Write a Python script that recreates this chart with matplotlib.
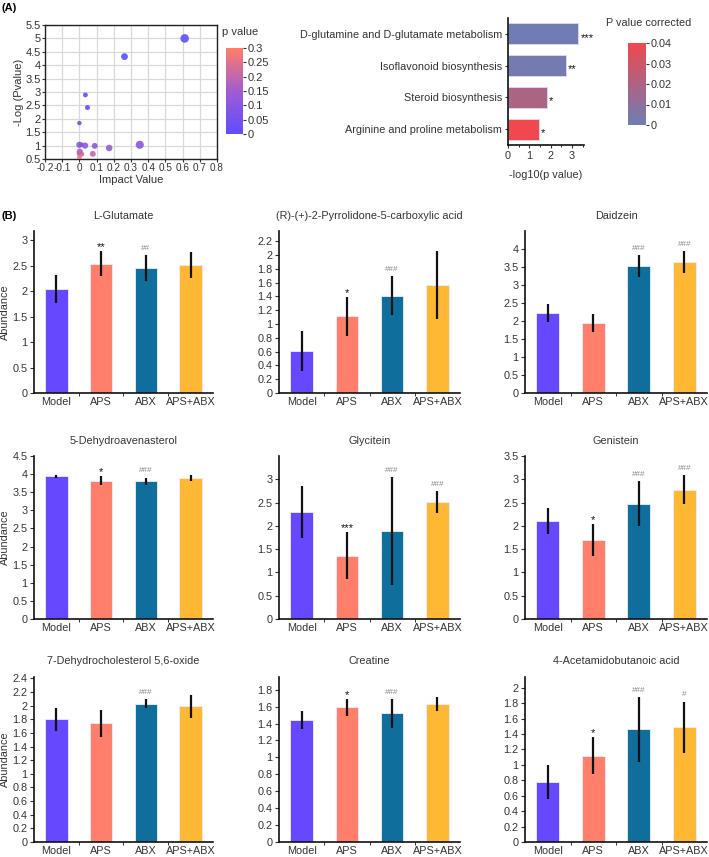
import matplotlib
matplotlib.use('Agg')
import matplotlib.pyplot as plt
import numpy as np
from matplotlib.colors import LinearSegmentedColormap, Normalize
from matplotlib.cm import ScalarMappable
from matplotlib.ticker import FixedLocator

plt.rcParams['font.family'] = ['Liberation Sans', 'DejaVu Sans']
TXT = '#333333'

# ---------------- data ----------------
# (A) left: pathway impact scatter
impact = [0.612, 0.262, 0.035, 0.047, 0.000, 0.000, 0.012, 0.033, 0.089, 0.173, 0.351, 0.002, 0.014, 0.078, 0.000, -0.003]
neglogp = [5.00, 4.32, 2.89, 2.42, 1.84, 1.03, 1.03, 1.00, 0.99, 0.91, 1.03, 0.77, 0.68, 0.69, 0.56, 0.70]
pt_size = [38, 24, 12, 13, 10, 20, 12, 20, 18, 22, 34, 20, 12, 18, 12, 10]

# (A) right: enriched pathways
pathways = ['D-glutamine and D-glutamate metabolism', 'Isoflavonoid biosynthesis',
            'Steroid biosynthesis', 'Arginine and proline metabolism']
path_neglog10p = [3.29, 2.72, 1.83, 1.45]
path_pcorr = [0.001, 0.002, 0.019, 0.040]
path_sig = ['***', '**', '*', '*']

# (B) metabolite abundances
groups = ['Model', 'APS', 'ABX', 'APS+ABX']
metabolites = ['L-Glutamate', '(R)-(+)-2-Pyrrolidone-5-carboxylic acid', 'Daidzein',
               '5-Dehydroavenasterol', 'Glycitein', 'Genistein',
               '7-Dehydrocholesterol 5,6-oxide', 'Creatine', '4-Acetamidobutanoic acid']
means = [
    [2.04, 2.54, 2.45, 2.51],
    [0.61, 1.11, 1.41, 1.57],
    [2.22, 1.94, 3.52, 3.64],
    [3.94, 3.82, 3.80, 3.90],
    [2.29, 1.36, 1.89, 2.51],
    [2.11, 1.69, 2.48, 2.78],
    [1.80, 1.74, 2.03, 1.99],
    [1.44, 1.59, 1.52, 1.63],
    [0.78, 1.12, 1.46, 1.49],
]
errs = [
    [0.27, 0.24, 0.26, 0.26],
    [0.29, 0.28, 0.28, 0.49],
    [0.25, 0.25, 0.31, 0.30],
    [0.04, 0.12, 0.10, 0.08],
    [0.56, 0.50, 1.16, 0.23],
    [0.28, 0.34, 0.48, 0.31],
    [0.17, 0.20, 0.07, 0.17],
    [0.11, 0.10, 0.17, 0.08],
    [0.22, 0.24, 0.42, 0.33],
]
marks = [
    ['', '**', '##', ''],
    ['', '*', '###', ''],
    ['', '', '###', '###'],
    ['', '*', '###', ''],
    ['', '***', '###', '###'],
    ['', '*', '###', '###'],
    ['', '', '###', ''],
    ['', '*', '###', ''],
    ['', '*', '###', '#'],
]
yticks = [
    np.arange(0, 3.01, 0.5),
    np.arange(0, 2.21, 0.2),
    np.arange(0, 4.01, 0.5),
    np.arange(0, 4.51, 0.5),
    np.arange(0, 3.01, 0.5),
    np.arange(0, 3.51, 0.5),
    np.arange(0, 2.41, 0.2),
    np.arange(0, 1.81, 0.2),
    np.arange(0, 2.01, 0.2),
]
ytops = [3.18, 2.35, 4.5, 4.5, 3.5, 3.5, 2.42, 1.95, 2.14]

group_colors = ['#6548FF', '#FF7F6A', '#0F6E9B', '#FFB833']

# ---------------- figure ----------------
W, H = 709, 857
fig = plt.figure(figsize=(W / 100, H / 100), dpi=100)


def ax_px(l, t, r, b):
    return fig.add_axes([l / W, 1 - b / H, (r - l) / W, (b - t) / H])


def fmt(v):
    s = ('%.2f' % v).rstrip('0').rstrip('.')
    return s


# ---- (A) scatter ----
ax = ax_px(45, 25, 217, 159)
cmap_p = LinearSegmentedColormap.from_list('pv', ['#5E4DFF', '#A25CD0', '#FF7E68'])
norm_p = Normalize(0, 0.3)
pvals = np.clip(10 ** (-np.array(neglogp)), 0, 0.3)
ax.scatter(impact, neglogp, s=pt_size, c=pvals, cmap=cmap_p, norm=norm_p,
           alpha=0.9, edgecolors='none', zorder=3)
ax.set_xlim(-0.2, 0.8)
ax.set_ylim(0.5, 5.5)
xt = np.round(np.arange(-0.2, 0.81, 0.1), 2)
ytk = np.arange(0.5, 5.51, 0.5)
ax.set_xticks(xt)
ax.set_xticklabels([fmt(v) for v in xt])
ax.set_yticks(ytk)
ax.set_yticklabels([fmt(v) for v in ytk])
ax.grid(True, color='#d9d9d9', lw=0.9)
ax.set_axisbelow(True)
for s in ax.spines.values():
    s.set_color('#222222')
    s.set_linewidth(1.0)
ax.tick_params(axis='y', labelsize=8, colors=TXT, length=2, pad=1)
ax.tick_params(axis='x', labelsize=7.2, colors=TXT, length=2, pad=1)
ax.set_xlabel('Impact Value', fontsize=8, color=TXT, labelpad=1)
ax.set_ylabel('-Log (Pvalue)', fontsize=8, color=TXT, labelpad=1)

cax = ax_px(226, 48, 243, 134)
cb = fig.colorbar(ScalarMappable(norm=norm_p, cmap=cmap_p), cax=cax)
cb.outline.set_visible(False)
cbt = [0, 0.05, 0.1, 0.15, 0.2, 0.25, 0.3]
cb.set_ticks(cbt)
cb.set_ticklabels([fmt(v) for v in cbt])
cax.tick_params(labelsize=8, colors=TXT, length=2, pad=1)
fig.text(222 / W, 1 - 32 / H, 'p value', fontsize=8, color=TXT, va='center')

# ---- (A) pathway bars ----
ax2 = ax_px(508, 18, 584, 145)
cmap_c = LinearSegmentedColormap.from_list('pc', ['#6E7DB6', '#F0484E'])
norm_c = Normalize(0, 0.04)
ypos = np.arange(len(pathways))
ax2.barh(ypos, path_neglog10p, height=0.66, color=cmap_c(norm_c(path_pcorr)),
         edgecolor='#d8d8f0', linewidth=0.7)
for y, v, s in zip(ypos, path_neglog10p, path_sig):
    ax2.text(v + 0.1, y + 0.12, s, fontsize=8, color='#111111', va='center', ha='left')
ax2.set_ylim(3.5, -0.5)
ax2.set_xlim(0, 3.56)
ax2.set_yticks(ypos)
ax2.set_yticklabels(pathways)
ax2.set_xticks([0, 1, 2, 3])
ax2.xaxis.set_minor_locator(FixedLocator([0.5, 1.5, 2.5, 3.5]))
for k in ['top', 'right']:
    ax2.spines[k].set_visible(False)
for k in ['left', 'bottom']:
    ax2.spines[k].set_linewidth(1.2)
    ax2.spines[k].set_color('#111111')
ax2.tick_params(labelsize=7.8, colors=TXT, length=2.5, pad=2)
ax2.tick_params(axis='x', which='minor', length=1.5)
ax2.set_xlabel('-log10(p value)', fontsize=7.8, color=TXT, labelpad=6)

cax2 = ax_px(628, 43, 646, 125)
cb2 = fig.colorbar(ScalarMappable(norm=norm_c, cmap=cmap_c), cax=cax2)
cb2.outline.set_visible(False)
cbt2 = [0, 0.01, 0.02, 0.03, 0.04]
cb2.set_ticks(cbt2)
cb2.set_ticklabels([fmt(v) for v in cbt2])
cax2.tick_params(labelsize=7.8, colors=TXT, length=2, pad=1)
fig.text(649 / W, 1 - 23 / H, 'P value corrected', fontsize=7.8, color=TXT,
         va='center', ha='center')

fig.text(2 / W, 1 - 8 / H, '(A)', fontsize=8, fontweight='bold', va='center')
fig.text(2 / W, 1 - 216 / H, '(B)', fontsize=8, fontweight='bold', va='center')

# ---- (B) bar panels ----
col_l = [34, 279, 525]
col_r = [213, 460, 707]
row_t = [231, 456, 677]
row_b = [393, 619, 842]
x = np.arange(len(groups))
for i in range(9):
    r, c = divmod(i, 3)
    a = ax_px(col_l[c], row_t[r], col_r[c], row_b[r])
    a.bar(x, means[i], width=0.5, color=group_colors, edgecolor='#eeeeff', linewidth=0.6,
          yerr=errs[i], error_kw=dict(ecolor='#111111', elinewidth=1.6, capsize=0))
    ytop = ytops[i]
    for j in range(4):
        m = marks[i][j]
        if not m:
            continue
        top = means[i][j] + errs[i][j]
        if m.startswith('*'):
            a.text(x[j], top - ytop * 0.005, m, fontsize=8, color='#111111', ha='center', va='bottom')
        else:
            a.text(x[j], top + ytop * 0.02, m, fontsize=5.8, color='#888888', ha='center', va='bottom')
    a.set_xlim(-0.5, 3.5)
    a.set_ylim(0, ytop)
    a.set_yticks(yticks[i])
    a.set_yticklabels([fmt(v) for v in yticks[i]])
    a.set_xticks(x)
    a.set_xticklabels(groups)
    a.xaxis.set_minor_locator(FixedLocator([0.5, 1.5, 2.5]))
    for k in ['top', 'right']:
        a.spines[k].set_visible(False)
    for k in ['left', 'bottom']:
        a.spines[k].set_linewidth(1.2)
        a.spines[k].set_color('#111111')
    a.tick_params(axis='y', labelsize=7.8, colors=TXT, length=3, pad=1.5)
    a.tick_params(axis='x', which='major', labelsize=7.8, colors=TXT, length=0, pad=3)
    a.tick_params(axis='x', which='minor', length=2, color='#111111')
    a.set_title(metabolites[i], fontsize=7.8, color=TXT, pad=9)
    if c == 0:
        a.set_ylabel('Abundance', fontsize=7.8, color=TXT, labelpad=2)

fig.savefig('out.png', dpi=100)
